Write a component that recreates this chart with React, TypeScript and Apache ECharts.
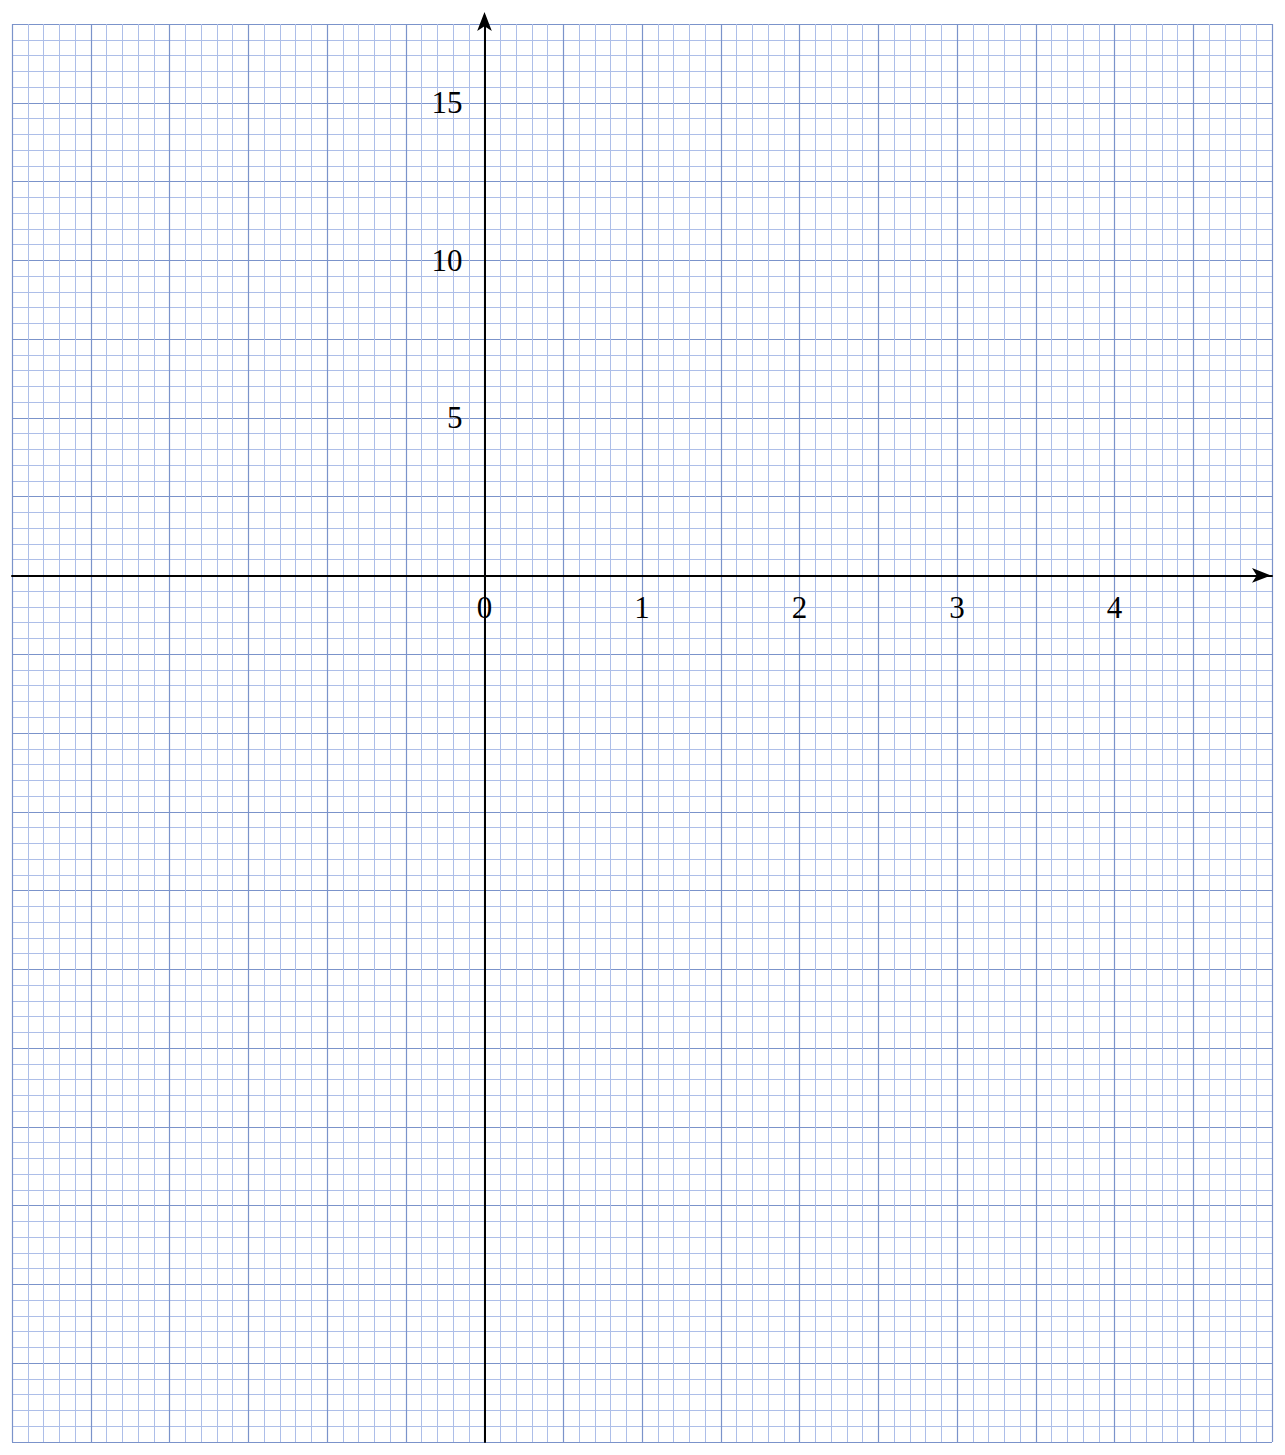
import React, { useEffect } from "react";

import * as echarts from "echarts";

// axis ranges and grid spacing
const xRange = [-3, 5];
const yRange = [-27.5, 17.5];
const xMajorStep = 0.5;
const yMajorStep = 2.5;
const minorDivisions = 5;

// only these ticks carry a label
const xTickLabels = [0, 1, 2, 3, 4];
const yTickLabels = [5, 10, 15];

const majorColor = "#7b93ca";
const minorColor = "#adbee8";
const labelFont = "'Liberation Serif', 'DejaVu Serif', serif";

const GraphPaper: React.FC = () => {
    const chartRef = React.useRef<HTMLDivElement>(null);

    useEffect(() => {
        const chart = echarts.init(chartRef.current!, undefined, { renderer: "svg" });

        // axes 0 draw the paper, axes 1 draw the black axis lines and labels
        const paperAxis = (range: number[], step: number, position: string) => ({
            type: "value",
            position,
            min: range[0],
            max: range[1],
            interval: step,
            axisLine: { show: false, onZero: false },
            axisTick: { show: false },
            axisLabel: { show: false },
            splitLine: { show: true, lineStyle: { color: majorColor, width: 1.2 } },
            minorTick: { show: false, splitNumber: minorDivisions },
            minorSplitLine: { show: true, lineStyle: { color: minorColor, width: 1 } },
        });

        const option: any = {
            animation: false,
            grid: {
                left: 4,
                top: 16,
                width: 1260,
                height: 1418,
                containLabel: false,
                outerBoundsMode: "none",
            },
            xAxis: [
                paperAxis(xRange, xMajorStep, "bottom"),
                {
                    type: "value",
                    position: "bottom",
                    min: xRange[0],
                    max: xRange[1],
                    interval: xMajorStep,
                    z: 5,
                    axisLine: {
                        show: true,
                        onZero: false,
                        symbol: ["none", "arrow"],
                        symbolSize: [11, 19],
                        symbolOffset: [0, -1],
                        lineStyle: { color: "#000", width: 2 },
                    },
                    axisTick: { show: false },
                    splitLine: { show: false },
                    axisLabel: {
                        margin: 17,
                        color: "#000",
                        fontFamily: labelFont,
                        fontSize: 31,
                        lineHeight: 31,
                        formatter: (v: number) => (xTickLabels.includes(v) ? String(v) : ""),
                    },
                },
            ],
            yAxis: [
                paperAxis(yRange, yMajorStep, "left"),
                {
                    type: "value",
                    position: "left",
                    min: yRange[0],
                    max: yRange[1],
                    interval: yMajorStep,
                    z: 5,
                    axisLine: {
                        show: true,
                        onZero: false,
                        symbol: ["none", "arrow"],
                        symbolSize: [11, 19],
                        symbolOffset: [0, 12],
                        lineStyle: { color: "#000", width: 2 },
                    },
                    axisTick: { show: false },
                    splitLine: { show: false },
                    axisLabel: {
                        margin: 22,
                        color: "#000",
                        fontFamily: labelFont,
                        fontSize: 31,
                        lineHeight: 31,
                        formatter: (v: number) => (yTickLabels.includes(v) ? String(v) : ""),
                    },
                },
            ],
            series: [],
        };

        chart.setOption(option);

        // move the black axes (line + labels) onto the zero of the other axis
        const zeroY = chart.convertToPixel({ yAxisIndex: 0 }, 0) as number;
        const bottomY = chart.convertToPixel({ yAxisIndex: 0 }, yRange[0]) as number;
        const zeroX = chart.convertToPixel({ xAxisIndex: 0 }, 0) as number;
        const leftX = chart.convertToPixel({ xAxisIndex: 0 }, xRange[0]) as number;
        chart.setOption({
            xAxis: [{}, { offset: zeroY - bottomY }],
            yAxis: [{}, { offset: leftX - zeroX }],
        });

        return () => {
            chart.dispose();
        };
    }, []);

    return <div style={{ width: "1269px", height: "1439px" }} ref={chartRef}></div>;
};

const App: React.FC = () => {
    return <GraphPaper />;
};

export default App;
